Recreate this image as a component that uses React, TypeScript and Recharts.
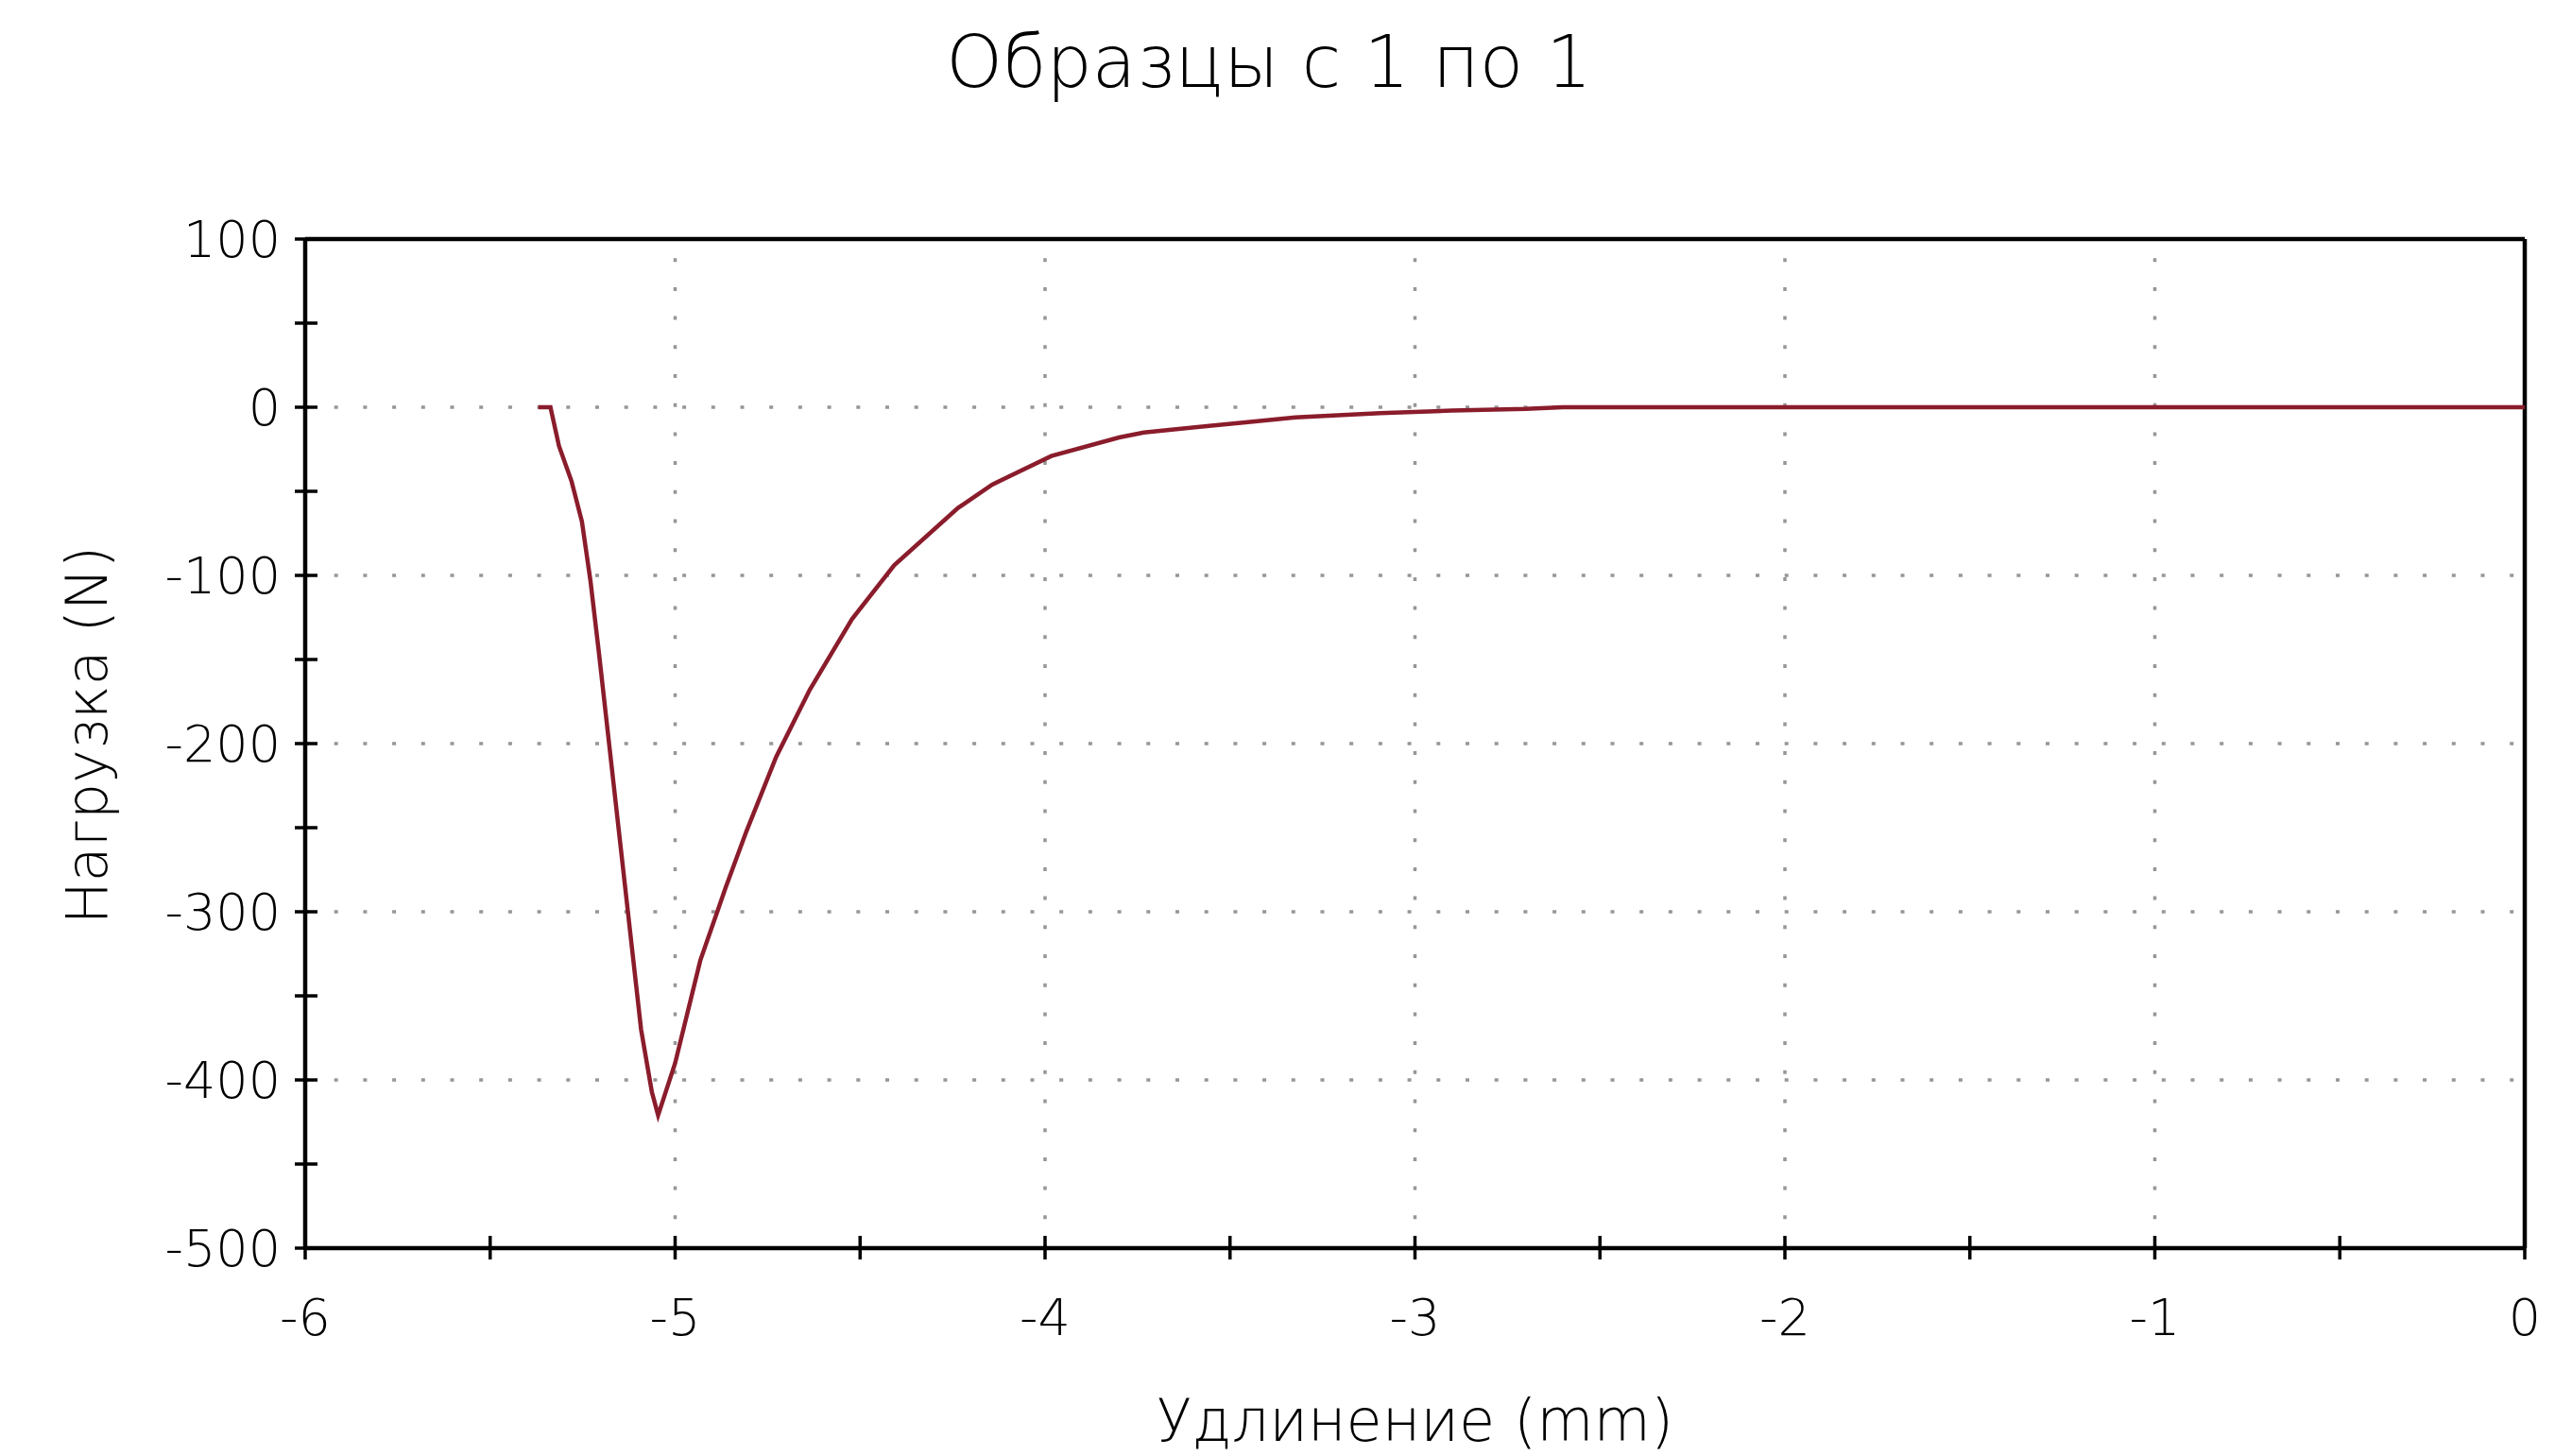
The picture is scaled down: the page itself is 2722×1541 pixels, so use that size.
import { Label, Line, LineChart, ReferenceLine, XAxis, YAxis } from "recharts";

// Удлинение (mm) и нагрузка (N)
const elongation = [
  -5.37, -5.337, -5.314, -5.28, -5.252, -5.229, -5.206, -5.177, -5.149, -5.12, -5.092, -5.063,
  -5.046, -5.0, -4.932, -4.864, -4.807, -4.727, -4.636, -4.522, -4.408, -4.236, -4.143, -3.983,
  -3.8, -3.733, -3.55, -3.458, -3.323, -3.094, -2.9, -2.7, -2.6, 0,
];
const load = [
  0, 0, -23, -44, -68, -103, -146, -203, -258, -315, -370, -407,
  -421, -390, -329, -286, -252, -208, -168, -126, -94, -60, -46, -29,
  -18, -15, -11, -9, -6, -3.5, -2, -1, 0, 0,
];

const xTicks = [-6, -5.5, -5, -4.5, -4, -3.5, -3, -2.5, -2, -1.5, -1, -0.5, 0];
const yTicks = [100, 50, 0, -50, -100, -150, -200, -250, -300, -350, -400, -450, -500];
const xGrid = [-5, -4, -3, -2, -1];
const yGrid = [0, -100, -200, -300, -400];

const title = "Образцы с 1 по 1";
const xTitle = "Удлинение (mm)";
const yTitle = "Нагрузка (N)";

const chartData = elongation.map((x, i) => ({ x, load: load[i] }));

const FONT = "'DejaVu Sans', Verdana, sans-serif";
const WEIGHT = 200;
const gridStyle = { stroke: "#969696", strokeWidth: 3.5, strokeDasharray: "4 26.7" };

function YTick(props: any) {
  const { x, y, payload } = props;
  const major = payload.value % 100 === 0;
  return (
    <g>
      <line x1={x - 11} x2={x + 13} y1={y} y2={y} stroke="#000" strokeWidth={3.5} />
      {major && (
        <text x={x - 26} y={y} textAnchor="end" dominantBaseline="central" fontFamily={FONT} fontWeight={WEIGHT} fontSize={54} fill="#000">
          {payload.value}
        </text>
      )}
    </g>
  );
}

function XTick(props: any) {
  const { x, y, payload } = props;
  const major = payload.value % 1 === 0;
  return (
    <g>
      <line x1={x} x2={x} y1={y - 13} y2={y + 12} stroke="#000" strokeWidth={3.5} />
      {major && (
        <text x={x} y={y + 92} textAnchor="middle" fontFamily={FONT} fontWeight={WEIGHT} fontSize={54} fill="#000">
          {payload.value}
        </text>
      )}
    </g>
  );
}

export default function App() {
  return (
    <div style={{ position: "absolute", left: 0, top: 0, width: 2722, height: 1541, background: "#fff" }}>
      <div
        style={{
          position: "absolute",
          left: 0,
          width: 2686,
          top: 28,
          textAlign: "center",
          fontFamily: FONT,
          fontWeight: WEIGHT,
          fontSize: 76,
          lineHeight: "76px",
          color: "#000",
        }}
      >
        {title}
      </div>
      <LineChart width={2722} height={1541} data={chartData} margin={{ top: 253, right: 50, left: 0, bottom: 0 }}>
        {xGrid.map((v) => (
          <ReferenceLine key={`gx${v}`} x={v} {...gridStyle} />
        ))}
        {yGrid.map((v) => (
          <ReferenceLine key={`gy${v}`} y={v} {...gridStyle} />
        ))}
        <ReferenceLine y={100} stroke="#000" strokeWidth={4.5} />
        <ReferenceLine x={0} stroke="#000" strokeWidth={4.5} />
        <XAxis
          dataKey="x"
          type="number"
          domain={[-6, 0]}
          ticks={xTicks}
          interval={0}
          height={220}
          tickSize={0}
          tickMargin={0}
          tickLine={false}
          axisLine={{ stroke: "#000", strokeWidth: 4.5 }}
          tick={<XTick />}
          allowDataOverflow
        >
          <Label
            content={(p: any) => {
              const vb = p.viewBox;
              return (
                <text x={vb.x + vb.width / 2} y={vb.y + 204} textAnchor="middle" fontFamily={FONT} fontWeight={WEIGHT} fontSize={62} fill="#000">
                  {xTitle}
                </text>
              );
            }}
          />
        </XAxis>
        <YAxis
          type="number"
          domain={[-500, 100]}
          ticks={yTicks}
          interval={0}
          width={323}
          tickSize={0}
          tickMargin={0}
          tickLine={false}
          axisLine={{ stroke: "#000", strokeWidth: 4.5 }}
          tick={<YTick />}
          allowDataOverflow
        >
          <Label
            content={(p: any) => {
              const vb = p.viewBox;
              return (
                <text
                  transform={`translate(${vb.x + 113}, ${vb.y + vb.height / 2 - 9}) rotate(-90)`}
                  textAnchor="middle"
                  fontFamily={FONT}
                  fontWeight={WEIGHT}
                  fontSize={60}
                  fill="#000"
                >
                  {yTitle}
                </text>
              );
            }}
          />
        </YAxis>
        <Line
          type="linear"
          dataKey="load"
          stroke="#8a1c2b"
          strokeWidth={4.5}
          dot={false}
          activeDot={false}
          isAnimationActive={false}
        />
      </LineChart>
    </div>
  );
}
